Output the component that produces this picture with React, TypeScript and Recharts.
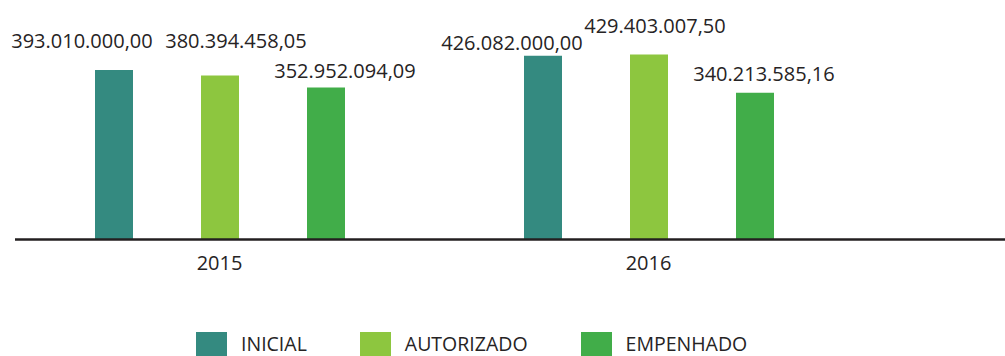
import React from 'react';
import { BarChart, Bar, XAxis, YAxis, Legend, LabelList } from 'recharts';

const years = ['2015', '2016'];
const seriesNames = ['INICIAL', 'AUTORIZADO', 'EMPENHADO'];
const inicial = [393010000.0, 426082000.0];
const autorizado = [380394458.05, 429403007.5];
const empenhado = [352952094.09, 340213585.16];

// label offsets per bar: [dx from bar centre, dy from bar top]
const inicialNudge = [[-32, -22], [-31, -6]];
const autorizadoNudge = [[16, -28], [6, -21]];
const empenhadoNudge = [[19, -9], [9, -12]];

const FONT = "'Open Sans', sans-serif";
const TEXT = '#262324';

const chartData = years.map((year, i) => ({
  year,
  INICIAL: inicial[i],
  AUTORIZADO: autorizado[i],
  EMPENHADO: empenhado[i],
}));

function formatBRL(v: number): string {
  const [int, dec] = v.toFixed(2).split('.');
  return int.replace(/\B(?=(\d{3})+(?!\d))/g, '.') + ',' + dec;
}

function makeLabel(nudge: number[][]) {
  return function ValueLabel(props: any) {
    const { x, y, width, value, index } = props;
    const [dx, dy] = nudge[index] || [0, -8];
    return (
      <text
        x={Number(x) + Number(width) / 2 + dx}
        y={Number(y) + dy}
        textAnchor="middle"
        fontFamily={FONT}
        fontSize={20}
        fill={TEXT}
      >
        {formatBRL(Number(value))}
      </text>
    );
  };
}

function LegendContent({ payload }: any) {
  if (!payload) return null;
  const items = [...payload].sort(
    (a: any, b: any) => seriesNames.indexOf(a.value) - seriesNames.indexOf(b.value)
  );
  return (
    <div style={{ display: 'flex', alignItems: 'center', height: 24 }}>
      {items.map((entry: any) => (
        <div
          key={entry.value}
          style={{ display: 'flex', alignItems: 'center', marginRight: 53 }}
        >
          <span
            style={{
              display: 'inline-block',
              width: 31,
              height: 24,
              backgroundColor: entry.color,
              marginRight: 14,
            }}
          />
          <span
            style={{
              fontFamily: FONT,
              fontSize: 19.5,
              lineHeight: '24px',
              color: TEXT,
              whiteSpace: 'nowrap',
            }}
          >
            {entry.value}
          </span>
        </div>
      ))}
    </div>
  );
}

export default function App() {
  return (
    <div style={{ width: 1005, height: 356, background: '#fff' }}>
      <style>{'body{margin:0}'}</style>
      <BarChart
        width={1005}
        height={356}
        data={chartData}
        margin={{ top: 10, right: 0, left: 15, bottom: 86.5 }}
        barSize={38}
        barGap={68}
      >
        <XAxis
          dataKey="year"
          height={30}
          padding={{ left: -10, right: 142 }}
          axisLine={{ stroke: '#231f20', strokeWidth: 2.5 }}
          tickLine={false}
          tickSize={0}
          tickMargin={16}
          tick={{ fontFamily: FONT, fontSize: 20, fill: TEXT }}
        />
        <YAxis hide domain={[0, 532500000]} />
        <Legend
          layout="horizontal"
          verticalAlign="middle"
          align="center"
          wrapperStyle={{ top: 332, left: 196, width: 'auto' }}
          content={<LegendContent />}
        />
        <Bar dataKey="INICIAL" fill="#348a80" isAnimationActive={false}>
          <LabelList dataKey="INICIAL" content={makeLabel(inicialNudge)} />
        </Bar>
        <Bar dataKey="AUTORIZADO" fill="#8dc63f" isAnimationActive={false}>
          <LabelList dataKey="AUTORIZADO" content={makeLabel(autorizadoNudge)} />
        </Bar>
        <Bar dataKey="EMPENHADO" fill="#41ad49" isAnimationActive={false}>
          <LabelList dataKey="EMPENHADO" content={makeLabel(empenhadoNudge)} />
        </Bar>
      </BarChart>
    </div>
  );
}
